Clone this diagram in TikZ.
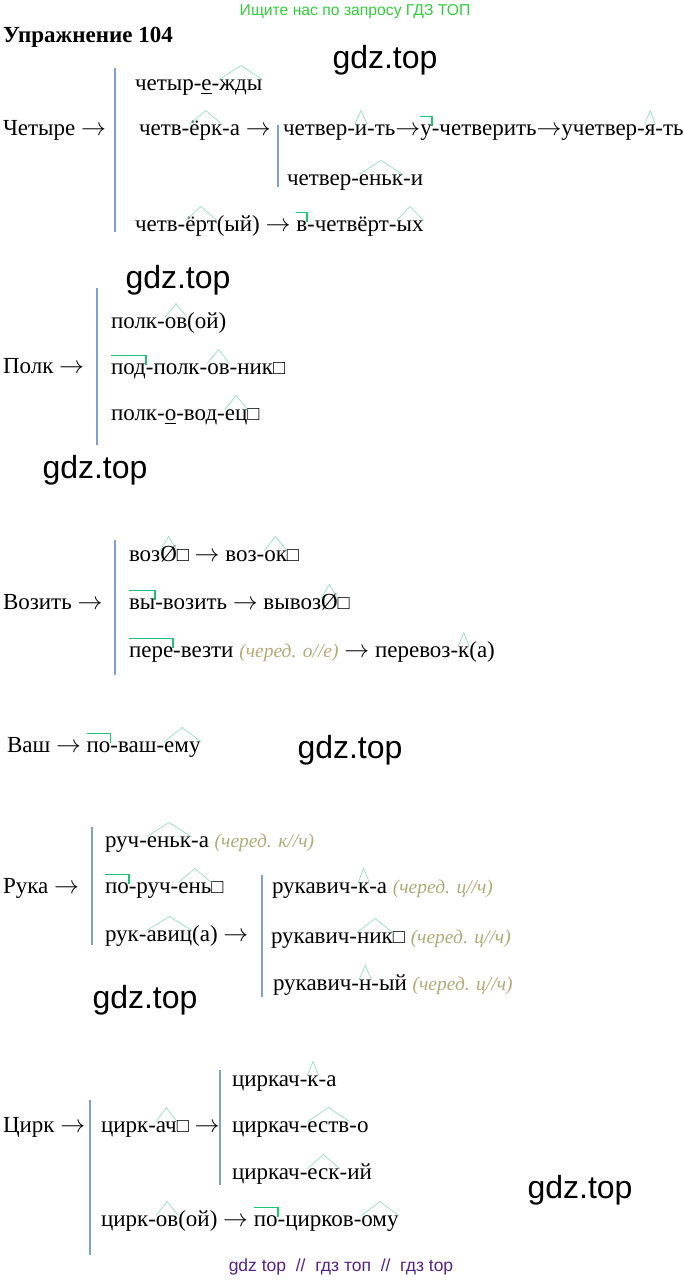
\documentclass[tikz,border=0pt]{standalone}
\usepackage{fontspec}
\setmainfont{Liberation Serif}
\newfontfamily\wmfamily{Liberation Sans}
\newcommand\zend{{\fontsize{20}{20}\selectfont □}}
\definecolor{sufcol}{RGB}{150,222,200}
\definecolor{prefcol}{RGB}{30,195,115}
\definecolor{barcol}{RGB}{125,160,205}
\definecolor{notecol}{RGB}{180,170,120}
\definecolor{headcol}{RGB}{50,205,60}
\definecolor{footcol}{RGB}{85,35,135}
\tikzset{
  wd/.style={anchor=base west, inner sep=0pt, outer sep=0pt, text height=10.5pt, text depth=0pt, font=\fontsize{23}{25}\selectfont},
  note/.style={wd, font=\fontsize{19.5}{22}\selectfont\itshape, text=notecol},
  wm/.style={font=\wmfamily\fontsize{32}{34}\selectfont},
  sufline/.style={draw=sufcol, line width=0.7pt},
  prefline/.style={draw=prefcol, line width=1.8pt},
  uline/.style={draw=black, line width=1pt},
  bar/.style={draw=barcol, line width=1.2pt},
}
\begin{document}
\begin{tikzpicture}[x=1pt, y=-1pt]
\useasboundingbox[fill=white] (0,0) rectangle (683,1283);
\node[font=\wmfamily\fontsize{15.7}{17}\selectfont, text=headcol] (head) at (355,12) {Ищите нас по запросу ГДЗ ТОП};
\node[anchor=base west, inner sep=0pt, font=\bfseries\fontsize{23}{25}\selectfont] (title) at (3,42) {Упражнение 104};
% Четыре
\node[wd] (ch) at (3,135) {Четыре $\to$};
\draw[bar] (115,68) -- (115,232);
\node[wd] (ch1a) at (135,90) {четыр-};
\node[wd] (ch1b) at (ch1a.base east) {е};
\node[wd] (ch1c) at (ch1b.base east) {-};
\node[wd] (ch1d) at (ch1c.base east) {жды};
\node[wd] (ch2a) at (139,135) {четв-};
\node[wd] (ch2b) at (ch2a.base east) {ёрк};
\node[wd] (ch2c) at (ch2b.base east) {-а $\to$};
\draw[bar] (278,125) -- (278,187);
\node[wd] (ch2d) at (283,135) {четвер-};
\node[wd] (ch2e) at (ch2d.base east) {и};
\node[wd] (ch2f) at (ch2e.base east) {-ть$\to$};
\node[wd] (ch2g) at (ch2f.base east) {у};
\node[wd] (ch2h) at (ch2g.base east) {-четверить$\to$учетвер-};
\node[wd] (ch2i) at (ch2h.base east) {я};
\node[wd] (ch2j) at (ch2i.base east) {-ть};
\node[wd] (ch3a) at (287,185) {четвер-};
\node[wd] (ch3b) at (ch3a.base east) {еньк};
\node[wd] (ch3c) at (ch3b.base east) {-и};
\node[wd] (ch4a) at (135,231) {четв-};
\node[wd] (ch4b) at (ch4a.base east) {ёрт};
\node[wd] (ch4c) at (ch4b.base east) {(ый) $\to$\kern.25em};
\node[wd] (ch4d) at (ch4c.base east) {в};
\node[wd] (ch4e) at (ch4d.base east) {-четвёрт-};
\node[wd] (ch4f) at (ch4e.base east) {ых};
% Полк
\node[wd] (po) at (3,373) {Полк $\to$};
\draw[bar] (97,288) -- (97,445);
\node[wd] (po1a) at (111,328) {полк-};
\node[wd] (po1b) at (po1a.base east) {ов};
\node[wd] (po1c) at (po1b.base east) {(ой)};
\node[wd] (po2a) at (111,374) {под};
\node[wd] (po2b) at (po2a.base east) {-полк-};
\node[wd] (po2c) at (po2b.base east) {ов};
\node[wd] (po2d) at (po2c.base east) {-ник\zend};
\node[wd] (po3a) at (111,420) {полк-};
\node[wd] (po3b) at (po3a.base east) {о};
\node[wd] (po3c) at (po3b.base east) {-вод-};
\node[wd] (po3d) at (po3c.base east) {ец};
\node[wd] (po3e) at (po3d.base east) {\zend};
% Возить
\node[wd] (vo) at (3,609) {Возить $\to$};
\draw[bar] (115,540) -- (115,675);
\node[wd] (vo1a) at (129,561) {воз};
\node[wd] (vo1b) at (vo1a.base east) {Ø};
\node[wd] (vo1c) at (vo1b.base east) {\zend\ $\to$ воз-};
\node[wd] (vo1d) at (vo1c.base east) {ок};
\node[wd] (vo1e) at (vo1d.base east) {\zend};
\node[wd] (vo2a) at (129,609) {вы};
\node[wd] (vo2b) at (vo2a.base east) {-возить $\to$ вывоз};
\node[wd] (vo2c) at (vo2b.base east) {Ø};
\node[wd] (vo2d) at (vo2c.base east) {\zend};
\node[wd] (vo3a) at (129,657) {пере};
\node[wd] (vo3b) at (vo3a.base east) {-везти\kern.25em};
\node[note] (vo3c) at (vo3b.base east) {(черед. о//е)};
\node[wd] (vo3d) at (vo3c.base east) {\kern.25em$\to$ перевоз-};
\node[wd] (vo3e) at (vo3d.base east) {к};
\node[wd] (vo3f) at (vo3e.base east) {(а)};
% Ваш
\node[wd] (va) at (7,752) {Ваш $\to$\kern.25em};
\node[wd] (va1) at (va.base east) {по};
\node[wd] (va2) at (va1.base east) {-ваш-};
\node[wd] (va3) at (va2.base east) {ему};
% Рука
\node[wd] (ru) at (3,893) {Рука $\to$};
\draw[bar] (92,827) -- (92,945);
\node[wd] (ru1a) at (105,847) {руч-};
\node[wd] (ru1b) at (ru1a.base east) {еньк};
\node[wd] (ru1c) at (ru1b.base east) {-а\kern.25em};
\node[note] (ru1d) at (ru1c.base east) {(черед. к//ч)};
\node[wd] (ru2a) at (105,893) {по};
\node[wd] (ru2b) at (ru2a.base east) {-руч-};
\node[wd] (ru2c) at (ru2b.base east) {ень};
\node[wd] (ru2d) at (ru2c.base east) {\zend};
\node[wd] (ru3a) at (105,941) {рук-};
\node[wd] (ru3b) at (ru3a.base east) {авиц};
\node[wd] (ru3c) at (ru3b.base east) {(а) $\to$};
\draw[bar] (262,875) -- (262,997);
\node[wd] (ru4a) at (272,893) {рукавич-};
\node[wd] (ru4b) at (ru4a.base east) {к};
\node[wd] (ru4c) at (ru4b.base east) {-а\kern.25em};
\node[note] (ru4d) at (ru4c.base east) {(черед. ц//ч)};
\node[wd] (ru5a) at (271,943) {рукавич-};
\node[wd] (ru5b) at (ru5a.base east) {ник};
\node[wd] (ru5c) at (ru5b.base east) {\zend\kern.25em};
\node[note] (ru5d) at (ru5c.base east) {(черед. ц//ч)};
\node[wd] (ru6a) at (273,990) {рукавич-};
\node[wd] (ru6b) at (ru6a.base east) {н};
\node[wd] (ru6c) at (ru6b.base east) {-ый\kern.25em};
\node[note] (ru6d) at (ru6c.base east) {(черед. ц//ч)};
% Цирк
\node[wd] (ci) at (3,1132) {Цирк $\to$};
\draw[bar] (90,1100) -- (90,1255);
\node[wd] (ci1a) at (101,1132) {цирк-};
\node[wd] (ci1b) at (ci1a.base east) {ач};
\node[wd] (ci1c) at (ci1b.base east) {\zend\ $\to$};
\draw[bar] (220,1070) -- (220,1185);
\node[wd] (ci2a) at (232,1086) {циркач-};
\node[wd] (ci2b) at (ci2a.base east) {к};
\node[wd] (ci2c) at (ci2b.base east) {-а};
\node[wd] (ci3a) at (232,1132) {циркач-};
\node[wd] (ci3b) at (ci3a.base east) {еств};
\node[wd] (ci3c) at (ci3b.base east) {-о};
\node[wd] (ci4a) at (232,1179) {циркач-};
\node[wd] (ci4b) at (ci4a.base east) {еск};
\node[wd] (ci4c) at (ci4b.base east) {-ий};
\node[wd] (ci5a) at (101,1226) {цирк-};
\node[wd] (ci5b) at (ci5a.base east) {ов};
\node[wd] (ci5c) at (ci5b.base east) {(ой) $\to$\kern.25em};
\node[wd] (ci5d) at (ci5c.base east) {по};
\node[wd] (ci5e) at (ci5d.base east) {-цирков-};
\node[wd] (ci5f) at (ci5e.base east) {ому};
% morpheme marks
\foreach \n in {ch1d,ch2b,ch2e,ch2i,ch3b,ch4b,ch4f,po1b,po2c,po3d,vo1b,vo1d,vo2c,vo3e,va3,
  ru1b,ru2c,ru3b,ru4b,ru5b,ru6b,ci1b,ci2b,ci3b,ci4b,ci5b,ci5f}
  {\draw[sufline] (\n.north west) -- ([yshift=14pt]\n.north) -- (\n.north east);}
\foreach \n in {ch2g,ch4d,po2a,vo2a,vo3a,va1,ru2a,ci5d}
  {\draw[prefline] ([yshift=8pt]\n.north west) -- ([yshift=8pt]\n.north east) -- ([yshift=-1pt]\n.north east);}
\foreach \n in {ch1b,po3b}
  {\draw[uline] ([yshift=-3pt]\n.base west) -- ([yshift=-3pt]\n.base east);}
% watermarks
\node[wm] (wm1) at (385,60) {gdz.top};
\node[wm] (wm2) at (178,280) {gdz.top};
\node[wm] (wm3) at (95,470) {gdz.top};
\node[wm] (wm4) at (350,750) {gdz.top};
\node[wm] (wm5) at (145,1000) {gdz.top};
\node[wm] (wm6) at (580,1190) {gdz.top};
\node[font=\wmfamily\fontsize{17.5}{19}\selectfont, text=footcol] (foot) at (341,1267) {gdz top~~//~~гдз топ~~//~~гдз top};
\end{tikzpicture}
\end{document}
